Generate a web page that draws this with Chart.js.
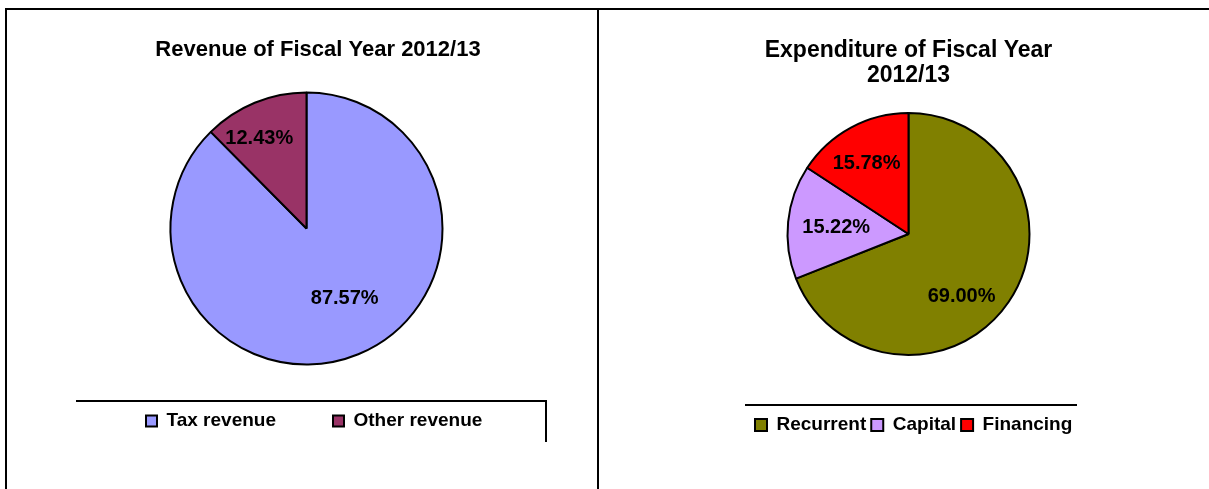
<!DOCTYPE html>
<html>
<head>
<meta charset="utf-8">
<title>Fiscal Year 2012/13</title>
<script src="https://cdn.jsdelivr.net/npm/chart.js@4.4.1/dist/chart.umd.min.js"></script>
<style>
  html, body { margin: 0; padding: 0; background: #fff; overflow: hidden; }
  #page { position: relative; width: 1209px; height: 489px; }
  canvas { position: absolute; top: 0; }
  .rule { position: absolute; background: #000; }
</style>
</head>
<body>
<div id="page">
  <canvas id="revenueChart" width="597" height="489" style="left:0"></canvas>
  <canvas id="expenditureChart" width="610" height="489" style="left:599px"></canvas>

  <!-- frame -->
  <div class="rule" style="left:5px; top:8px; width:1204px; height:2px"></div>
  <div class="rule" style="left:5px; top:8px; width:2px; height:481px"></div>
  <div class="rule" style="left:597px; top:8px; width:2px; height:481px"></div>
  <!-- legend boxes -->
  <div class="rule" style="left:76px; top:400px; width:471px; height:2px"></div>
  <div class="rule" style="left:545px; top:400px; width:2px; height:42px"></div>
  <div class="rule" style="left:745px; top:404px; width:332px; height:2px"></div>
</div>

<script>
// revenue pie
const revenueLabels = ['Tax revenue', 'Other revenue'];
const revenueShares = [87.57, 12.43];
const revenueColors = ['#9999FF', '#993366'];

// expenditure pie
const expenditureLabels = ['Recurrent', 'Capital', 'Financing'];
const expenditureShares = [69.00, 15.22, 15.78];
const expenditureColors = ['#808000', '#CC99FF', '#FF0000'];

const FONT = "'Liberation Sans', Arial, Helvetica, sans-serif";

// percentage labels inside the slices
// at[i] = [fraction along the slice angle, fraction of the radius]
const sliceLabels = {
    id: 'sliceLabels',
    afterDatasetsDraw(chart, args, opts) {
        const ctx = chart.ctx;
        const meta = chart.getDatasetMeta(0);
        const values = chart.data.datasets[0].data;
        ctx.save();
        ctx.font = 'bold ' + opts.size + 'px ' + FONT;
        ctx.fillStyle = '#000';
        ctx.textAlign = 'center';
        ctx.textBaseline = 'middle';
        meta.data.forEach(function(arc, i) {
            const p = arc.getProps(['x', 'y', 'startAngle', 'endAngle', 'outerRadius'], true);
            const at = opts.at[i] || [0.5, 0.6];
            const a = p.startAngle + at[0] * (p.endAngle - p.startAngle);
            const r = at[1] * p.outerRadius;
            ctx.fillText(values[i].toFixed(2) + '%', p.x + Math.cos(a) * r, p.y + Math.sin(a) * r);
        });
        ctx.restore();
    }
};

Chart.defaults.font.family = FONT;
Chart.defaults.color = '#000';

new Chart(document.getElementById('revenueChart'), {
    type: 'pie',
    data: {
        labels: revenueLabels,
        datasets: [{
            data: revenueShares,
            backgroundColor: revenueColors,
            borderColor: '#000',
            borderWidth: 2,
            clip: false
        }]
    },
    options: {
        responsive: false,
        devicePixelRatio: 1,
        animation: false,
        radius: 136,
        layout: { padding: { left: 89, right: 50, top: 0, bottom: 48.5 } },
        plugins: {
            title: {
                display: true,
                text: 'Revenue of Fiscal Year 2012/13',
                color: '#000',
                font: { size: 22, weight: 'bold', lineHeight: 1.2 },
                padding: { top: 36.8, bottom: 39.3 }
            },
            // empty side box, only nudges the pie left of the title
            subtitle: {
                display: true,
                text: '',
                position: 'right',
                font: { size: 10, lineHeight: 1 },
                padding: { top: 13, bottom: 0 }
            },
            legend: {
                position: 'bottom',
                align: 'start',
                labels: {
                    color: '#000',
                    font: { size: 19, weight: 'bold' },
                    boxWidth: 11,
                    boxHeight: 11,
                    padding: 57
                }
            },
            tooltip: { enabled: false },
            sliceLabels: { size: 20, at: [[0.48, 0.585], [0.38, 0.746]] }
        }
    },
    plugins: [sliceLabels]
});

new Chart(document.getElementById('expenditureChart'), {
    type: 'pie',
    data: {
        labels: expenditureLabels,
        datasets: [{
            data: expenditureShares,
            backgroundColor: expenditureColors,
            borderColor: '#000',
            borderWidth: 2,
            clip: false
        }]
    },
    options: {
        responsive: false,
        devicePixelRatio: 1,
        animation: false,
        radius: 121,
        layout: { padding: { left: 151, right: 0, top: 0, bottom: 44.5 } },
        plugins: {
            title: {
                display: true,
                fullSize: false,
                text: ['Expenditure of Fiscal Year', '2012/13'],
                color: '#000',
                font: { size: 23, weight: 'bold', lineHeight: 1.09 },
                padding: { top: 38.5, bottom: 0 }
            },
            subtitle: {
                display: true,
                text: '',
                position: 'right',
                font: { size: 10, lineHeight: 1 },
                padding: { top: 132, bottom: 0 }
            },
            legend: {
                position: 'bottom',
                align: 'start',
                // empty title only pushes the items down
                title: { display: true, text: '', font: { size: 10, lineHeight: 1 }, padding: { top: 21.1, bottom: 0 } },
                labels: {
                    color: '#000',
                    font: { size: 19, weight: 'bold' },
                    boxWidth: 12,
                    boxHeight: 12,
                    padding: 5
                }
            },
            tooltip: { enabled: false },
            sliceLabels: { size: 20, at: [[0.563, 0.68], [0.489, 0.6], [0.461, 0.68]] }
        }
    },
    plugins: [sliceLabels]
});
</script>
</body>
</html>
